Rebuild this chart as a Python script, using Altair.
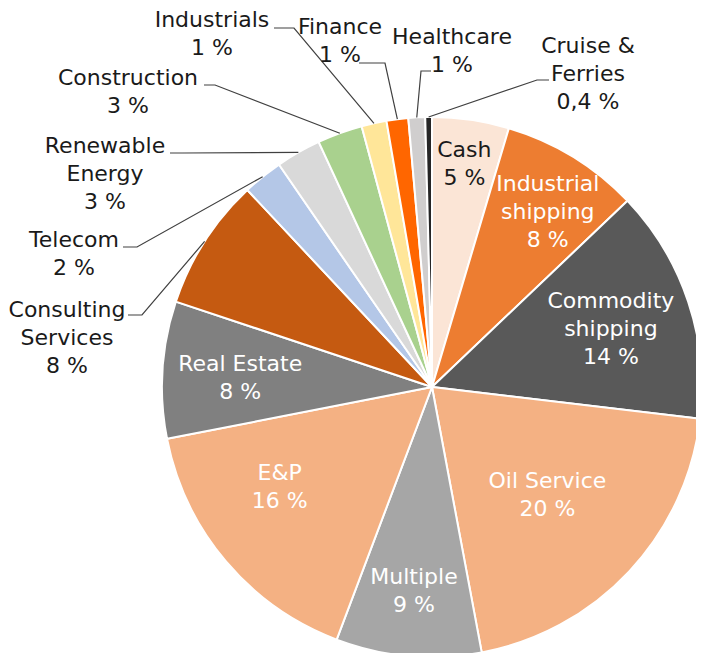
import math
import altair as alt
import pandas as pd

# ---- data ----
sectors = ["Cash", "Industrial shipping", "Commodity shipping", "Oil Service", "Multiple",
           "E&P", "Real Estate", "Consulting Services", "Telecom", "Renewable Energy",
           "Construction", "Industrials", "Finance", "Healthcare", "Cruise & Ferries"]
shares = [4.6, 8.3, 14.0, 20.2, 8.7, 16.2, 8.2, 7.9, 2.4, 2.7, 2.7, 1.5, 1.3, 1.0, 0.4]
pct_labels = ["5 %", "8 %", "14 %", "20 %", "9 %", "16 %", "8 %", "8 %", "2 %", "3 %",
              "3 %", "1 %", "1 %", "1 %", "0,4 %"]
name_lines = ["Cash", "Industrial\nshipping", "Commodity\nshipping", "Oil Service", "Multiple",
              "E&P", "Real Estate", "Consulting\nServices", "Telecom", "Renewable\nEnergy",
              "Construction", "Industrials", "Finance", "Healthcare", "Cruise &\nFerries"]

# ---- styling / layout ----
slice_colors = ["#FBE5D6", "#ED7D31", "#595959", "#F4B183", "#A6A6A6",
                "#F4B183", "#808080", "#C55A11", "#B4C7E7", "#D9D9D9",
                "#A9D18E", "#FFE699", "#FF6600", "#D0CECE", "#262626"]
# inside labels: (radius px, angle nudge in degrees, text colour)
inside_layout = {
    "Cash": (225, 0, "#1a1a1a"),
    "Industrial shipping": (210, 2, "white"),
    "Commodity shipping": (188, 0.5, "white"),
    "Oil Service": (158, 0, "white"),
    "Multiple": (205, 0, "white"),
    "E&P": (182, 7, "white"),
    "Real Estate": (192, -1, "white"),
}
# outside labels: first-line anchor, leader bend, leader end (chart pixel coords)
out_layout = {
    "Consulting Services": ((59, 302), (134, 307), (120, 307)),
    "Telecom": ((66, 232), (129, 239), (115, 239)),
    "Renewable Energy": ((97, 138), (175, 145), (162, 145)),
    "Construction": ((120, 70), (207, 77), (196, 77)),
    "Industrials": ((204, 12), (286, 20), (266, 20)),
    "Finance": ((332, 19), (377, 55), (351, 55)),
    "Healthcare": ((444, 29), (413, 63), (423, 63)),
    "Cruise & Ferries": ((580, 38), (529, 72), (541, 72)),
}

W, H = 688, 645
CX, CY, R = 424, 379, 270
FONT = "DejaVu Sans"
FS, LH = 22, 28

df = pd.DataFrame({
    "sector": sectors,
    "share": shares,
    "idx": list(range(len(sectors))),
    "fill": slice_colors,
})

pie = alt.Chart(df).mark_arc(outerRadius=R, stroke="white", strokeWidth=2).encode(
    theta=alt.Theta("share:Q", stack=True),
    color=alt.Color("fill:N", scale=None),
    order=alt.Order("idx:Q"),
    x=alt.value(CX),
    y=alt.value(CY),
)

# mid angles of slices (from the data)
total = sum(shares)
cum = 0.0
mids = {}
for s, v in zip(sectors, shares):
    mids[s] = (cum + v / 2) / total * 2 * math.pi
    cum += v

in_rows = []
for s, (r, nudge, col) in inside_layout.items():
    i = sectors.index(s)
    txt = f"{name_lines[i]}\n{pct_labels[i]}"
    n = txt.count("\n") + 1
    a = mids[s] + math.radians(nudge)
    x = CX + r * math.sin(a)
    y = CY - r * math.cos(a) - (n - 1) * LH / 2
    in_rows.append({"x": x, "y": y, "t": txt, "c": col})

lab_rows, line_rows = [], []
for s, (c, bend, end) in out_layout.items():
    i = sectors.index(s)
    lab_rows.append({"x": c[0], "y": c[1], "t": f"{name_lines[i]}\n{pct_labels[i]}", "c": "#1a1a1a"})
    a = mids[s]
    sx, sy = CX + R * math.sin(a), CY - R * math.cos(a)
    for k, (px, py) in enumerate([(sx, sy), bend, end]):
        line_rows.append({"id": s, "k": k, "x": px, "y": py})

text_df = pd.DataFrame(in_rows + lab_rows)

labels = alt.Chart(text_df).mark_text(
    font=FONT, fontSize=FS, lineBreak="\n", lineHeight=LH,
    align="center", baseline="middle"
).encode(
    x=alt.X("x:Q", scale=None, axis=None),
    y=alt.Y("y:Q", scale=None, axis=None),
    text="t:N",
    color=alt.Color("c:N", scale=None),
)

leaders = alt.Chart(pd.DataFrame(line_rows)).mark_line(color="#404040", strokeWidth=1.2).encode(
    x=alt.X("x:Q", scale=None, axis=None),
    y=alt.Y("y:Q", scale=None, axis=None),
    detail="id:N",
    order="k:Q",
)

chart = alt.layer(pie, leaders, labels).properties(
    width=W, height=H, padding=0, autosize=alt.AutoSizeParams(type="none")
).configure_view(stroke=None)

chart.save("out.html", embed_options={"renderer": "svg", "actions": False})
